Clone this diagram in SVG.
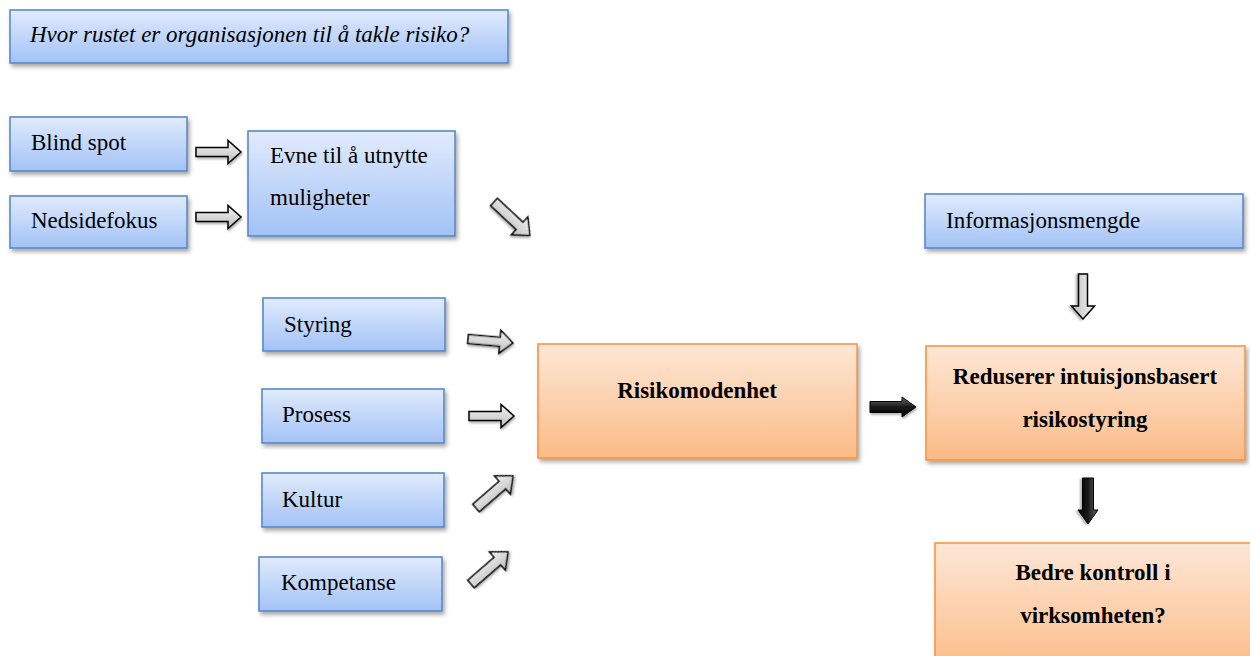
<svg xmlns="http://www.w3.org/2000/svg" width="1250" height="656" viewBox="0 0 1250 656">
  <style>
    .blue { fill: url(#gBlue); stroke: #5a8ac6; stroke-width: 1.6; filter: url(#shadow); }
    .orange { fill: url(#gOrange); stroke: #f79646; stroke-width: 1.6; filter: url(#shadow); }
    .t { font-family: "Liberation Serif", "Times New Roman", serif; font-size: 23px; fill: #000; }
    .ti { font-style: italic; }
    .tb { font-weight: bold; text-anchor: middle; }
    .hollow { fill: url(#gGray); stroke: #000; stroke-width: 1.5; stroke-linejoin: miter; filter: url(#ashadow); }
    .solid { fill: url(#gDark); stroke: #000; stroke-width: 1; filter: url(#ashadow); }
  </style>
  <defs>
    <linearGradient id="gBlue" x1="0" y1="0" x2="0" y2="1">
      <stop offset="0" stop-color="#e1ebfd"/>
      <stop offset="1" stop-color="#a2c2f6"/>
    </linearGradient>
    <linearGradient id="gOrange" x1="0" y1="0" x2="0" y2="1">
      <stop offset="0" stop-color="#fde7d6"/>
      <stop offset="1" stop-color="#fbbb86"/>
    </linearGradient>
    <linearGradient id="gGray" x1="0" y1="0" x2="0" y2="1">
      <stop offset="0" stop-color="#f4f4f4"/>
      <stop offset="1" stop-color="#bdbdbd"/>
    </linearGradient>
    <linearGradient id="gDark" x1="0" y1="0" x2="0" y2="1">
      <stop offset="0" stop-color="#6a6a6a"/>
      <stop offset="0.5" stop-color="#1a1a1a"/>
      <stop offset="1" stop-color="#000"/>
    </linearGradient>
    <filter id="shadow" x="-10%" y="-20%" width="125%" height="150%">
      <feGaussianBlur in="SourceAlpha" stdDeviation="2"/>
      <feOffset dx="1.5" dy="3" result="b"/>
      <feComponentTransfer><feFuncA type="linear" slope="0.35"/></feComponentTransfer>
      <feMerge><feMergeNode/><feMergeNode in="SourceGraphic"/></feMerge>
    </filter>
    <filter id="ashadow" x="-30%" y="-30%" width="160%" height="160%">
      <feGaussianBlur in="SourceAlpha" stdDeviation="1.2"/>
      <feOffset dx="1" dy="2" result="b"/>
      <feComponentTransfer><feFuncA type="linear" slope="0.3"/></feComponentTransfer>
      <feMerge><feMergeNode/><feMergeNode in="SourceGraphic"/></feMerge>
    </filter>
    <!-- block arrows pointing right, tail at origin -->
    <path id="arrowR" d="M0,-4.5 H32 V-11.5 L45,0 L32,11.5 V4.5 H0 Z"/>
    <path id="arrowDiag" d="M0,-5 H35 V-12 L49,0 L35,12 V5 H0 Z"/>
    <path id="arrowSolid" d="M0,-5.5 H32 V-10 L46,0 L32,10 V5.5 H0 Z"/>
  </defs>

  <rect width="1250" height="656" fill="#fff"/>

  <g id="connectors">
    <use href="#arrowR" class="hollow" transform="translate(196,152)"/>
    <use href="#arrowR" class="hollow" transform="translate(196,217)"/>
    <use href="#arrowDiag" class="hollow" transform="translate(494,202) rotate(43)"/>
    <use href="#arrowR" class="hollow" transform="translate(468,339) rotate(5)"/>
    <use href="#arrowR" class="hollow" transform="translate(469,416)"/>
    <use href="#arrowDiag" class="hollow" transform="translate(476,508) rotate(-41)"/>
    <use href="#arrowDiag" class="hollow" transform="translate(471,584) rotate(-41)"/>
    <use href="#arrowSolid" class="solid" transform="translate(870,407)"/>
    <use href="#arrowR" class="hollow" transform="translate(1083,274) rotate(90)"/>
    <use href="#arrowSolid" class="solid" transform="translate(1088,478) rotate(90)"/>
  </g>

  <g id="title">
    <rect class="blue" x="10" y="10" width="498" height="53"/>
    <text class="t ti" x="30" y="42">Hvor rustet er organisasjonen til å takle risiko?</text>
  </g>
  <g id="blind-spot">
    <rect class="blue" x="10" y="117" width="177" height="54"/>
    <text class="t" x="31" y="150">Blind spot</text>
  </g>
  <g id="nedsidefokus">
    <rect class="blue" x="10" y="196" width="177" height="52"/>
    <text class="t" x="31" y="228">Nedsidefokus</text>
  </g>
  <g id="evne">
    <rect class="blue" x="248" y="131" width="207" height="105"/>
    <text class="t" x="270" y="163">Evne til å utnytte</text>
    <text class="t" x="270" y="205">muligheter</text>
  </g>
  <g id="styring">
    <rect class="blue" x="263" y="298" width="182" height="53"/>
    <text class="t" x="284" y="332">Styring</text>
  </g>
  <g id="prosess">
    <rect class="blue" x="262" y="389" width="182" height="54"/>
    <text class="t" x="282" y="422">Prosess</text>
  </g>
  <g id="kultur">
    <rect class="blue" x="262" y="473" width="182" height="54"/>
    <text class="t" x="282" y="507">Kultur</text>
  </g>
  <g id="kompetanse">
    <rect class="blue" x="259" y="557" width="183" height="54"/>
    <text class="t" x="281" y="590">Kompetanse</text>
  </g>
  <g id="risikomodenhet">
    <rect class="orange" x="538" y="344" width="319" height="114"/>
    <text class="t tb" x="697" y="398">Risikomodenhet</text>
  </g>
  <g id="informasjonsmengde">
    <rect class="blue" x="925" y="194" width="318" height="54"/>
    <text class="t" x="946" y="228">Informasjonsmengde</text>
  </g>
  <g id="reduserer">
    <rect class="orange" x="926" y="346" width="319" height="114"/>
    <text class="t tb" x="1085" y="384">Reduserer intuisjonsbasert</text>
    <text class="t tb" x="1085" y="427">risikostyring</text>
  </g>
  <g id="bedre-kontroll">
    <rect class="orange" x="935" y="543" width="330" height="130"/>
    <text class="t tb" x="1093" y="580">Bedre kontroll i</text>
    <text class="t tb" x="1093" y="623">virksomheten?</text>
  </g>
</svg>
